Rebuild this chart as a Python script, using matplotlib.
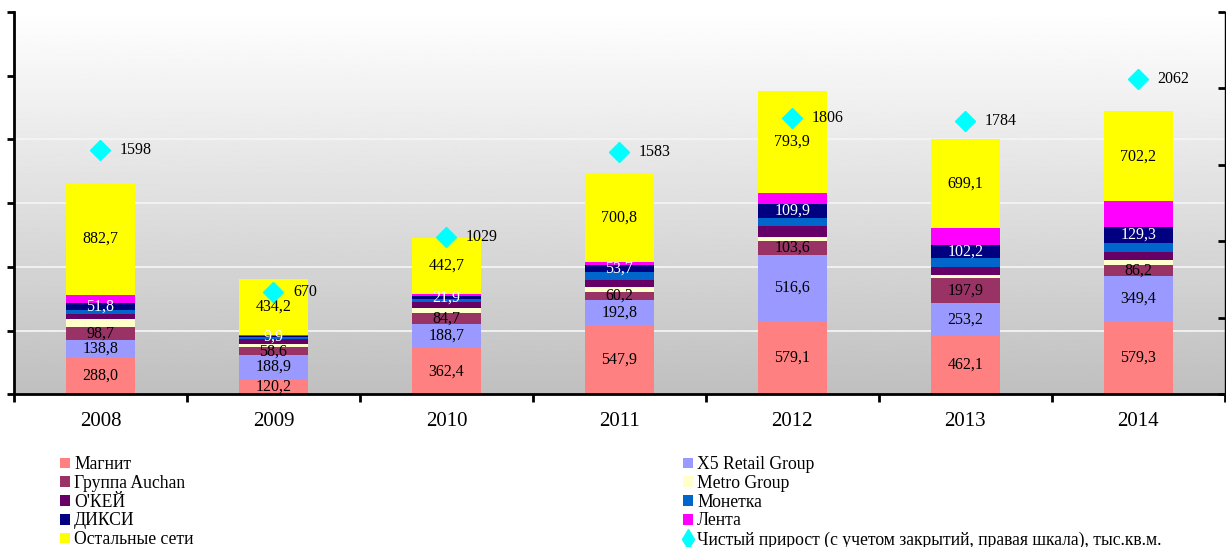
import numpy as np
import matplotlib
matplotlib.use("Agg")
from matplotlib import pyplot as plt
from matplotlib.patches import Patch
from matplotlib.lines import Line2D

plt.rcParams['font.family'] = ['Liberation Serif', 'DejaVu Serif']

years = ['2008', '2009', '2010', '2011', '2012', '2013', '2014']

# stacked bars, bottom to top (left scale)
magnit = [288.0, 120.2, 362.4, 547.9, 579.1, 462.1, 579.3]
x5 = [138.8, 188.9, 188.7, 192.8, 516.6, 253.2, 349.4]
auchan = [98.7, 58.6, 84.7, 60.2, 103.6, 197.9, 86.2]
metro = [65, 28, 38, 38, 38, 24, 38]
okey = [39, 35, 52, 56, 85, 60, 62]
monetka = [34, 16, 23, 66, 64, 72, 70]
dixi = [51.8, 9.9, 21.9, 53.7, 109.9, 102.2, 129.3]
lenta = [63, 12, 15, 22, 85, 132, 202]
others = [882.7, 434.2, 442.7, 700.8, 793.9, 699.1, 702.2]

# net growth (right scale)
net_growth = [1598, 670, 1029, 1583, 1806, 1784, 2062]

series = [
    ('Магнит', magnit, '#FF8080', True, 'black'),
    ('X5 Retail Group', x5, '#9999FF', True, 'black'),
    ('Группа Auchan', auchan, '#993366', True, 'black'),
    ('Metro Group', metro, '#FFFFCC', False, 'black'),
    ("О'КЕЙ", okey, '#660066', False, 'black'),
    ('Монетка', monetka, '#0066CC', False, 'black'),
    ('ДИКСИ', dixi, '#000080', True, 'white'),
    ('Лента', lenta, '#FF00FF', False, 'black'),
    ('Остальные сети', others, '#FFFF00', True, 'black'),
]

fig = plt.figure(figsize=(12.26, 5.47), dpi=100)
ax = fig.add_axes([0.0114, 0.279, 0.9876, 0.6995])

# grey gradient background of the plot area
grad = np.linspace(1.0, 0.75, 256).reshape(-1, 1)
ax.imshow(grad, extent=[0, 1, 0, 1], transform=ax.transAxes, aspect='auto',
          cmap='gray', vmin=0, vmax=1, zorder=0)

x = np.arange(len(years))
ax.set_xlim(-0.5, len(years) - 0.5)
ax.set_ylim(0, 3000)
for g in range(500, 3000, 500):
    ax.axhline(g, color='#F4F4F4', lw=1.3, zorder=1)

bottom = np.zeros(len(years))
handles = {}
for name, vals, color, show, tcolor in series:
    vals = np.array(vals, dtype=float)
    ax.bar(x, vals, 0.4, bottom=bottom, color=color, zorder=2)
    handles[name] = Patch(facecolor=color)
    if show:
        for xi, b, v in zip(x, bottom, vals):
            ax.text(xi, b + v / 2, f'{v:.1f}'.replace('.', ','), ha='center',
                    va='center', fontsize=11.5, color=tcolor, zorder=4)
    bottom += vals

ax.set_xticks(x)
ax.set_xticklabels(years, fontsize=15)
ax.set_xticks(np.arange(-0.5, len(years)), minor=True)
ax.tick_params(axis='x', which='major', length=0, pad=13)
ax.tick_params(axis='x', which='minor', length=6, width=2, direction='out')
ax.set_yticks(range(0, 3001, 500))
ax.tick_params(axis='y', length=5, width=2, direction='out', labelleft=False)
ax.spines['top'].set_visible(False)
ax.spines['left'].set_linewidth(2)
ax.spines['bottom'].set_linewidth(2)
ax.spines['right'].set_visible(False)

ax2 = ax.twinx()
ax2.set_ylim(0, 2500)
ax2.set_yticks(range(0, 2501, 500))
ax2.tick_params(axis='y', length=5, width=2, direction='in', labelright=False)
for s in ['top', 'left', 'bottom']:
    ax2.spines[s].set_visible(False)
ax2.spines['right'].set_linewidth(1)
ax2.plot(x, net_growth, linestyle='none', marker='D', markersize=10,
         color='#00FFFF', zorder=5)
for xi, v in zip(x, net_growth):
    ax2.annotate(str(v), (xi, v), xytext=(14, 0), textcoords='offset points',
                 va='center', ha='left', fontsize=11.5)

diamond = Line2D([], [], linestyle='none', marker='d', markersize=10,
                 color='#00FFFF')
left_names = ['Магнит', 'Группа Auchan', "О'КЕЙ", 'ДИКСИ', 'Остальные сети']
right_names = ['X5 Retail Group', 'Metro Group', 'Монетка', 'Лента']

kw = dict(frameon=False, fontsize=12.7, handlelength=0.55, handleheight=0.55,
          handletextpad=0.25, labelspacing=0.1, borderpad=0,
          borderaxespad=0, loc='upper left')
fig.legend([handles[n] for n in left_names], left_names,
           bbox_to_anchor=(0.049, 0.166), **kw)
fig.legend([handles[n] for n in right_names] + [diamond],
           right_names + ['Чистый прирост (с учетом закрытий, правая шкала), тыс.кв.м.'],
           bbox_to_anchor=(0.557, 0.166), **kw)

fig.savefig('out.png', dpi=100)
